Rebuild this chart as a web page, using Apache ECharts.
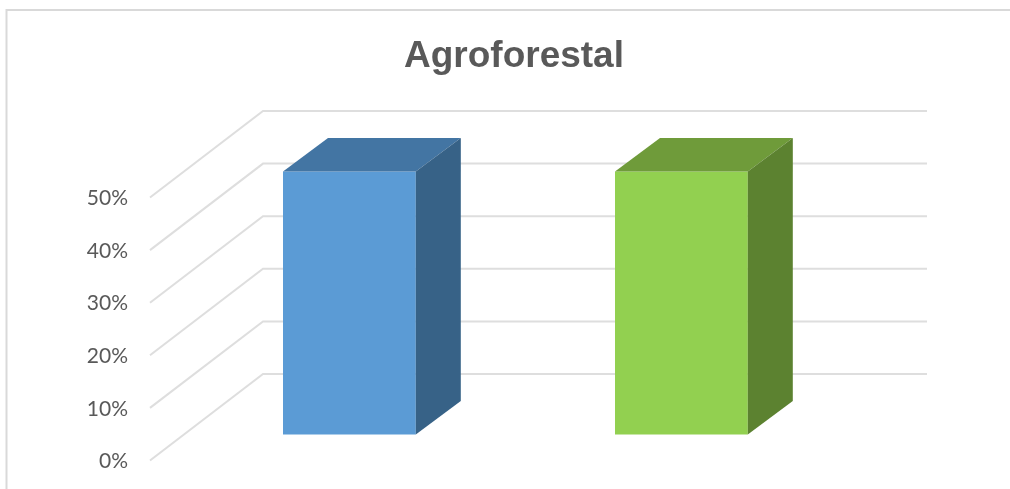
<!DOCTYPE html>
<html>
<head>
<meta charset="utf-8">
<script src="https://cdn.jsdelivr.net/npm/echarts@6/dist/echarts.min.js"></script>
<style>html,body{margin:0;padding:0;background:#fff}#c{width:1010px;height:489px}</style>
</head>
<body>
<div id="c"></div>
<script>
const titleText = 'Agroforestal';
const categories = ['Columna 1', 'Columna 2'];
const barValues = [50, 50];
const axisTicks = [0, 10, 20, 30, 40, 50];
const frontColors = ['#5B9BD5', '#92D050'];
const topColors = ['#4375A3', '#6F9B3A'];
const sideColors = ['#376287', '#5C8230'];
const depthX = 113, depthY = -86.5, wallWidth = 664;
const barDepthX = 45, barDepthY = -33.5, barInsetX = 33.4, barInsetY = -26;

const chart = echarts.init(document.getElementById('c'), null, {renderer: 'canvas'});

function renderGrid(params, api) {
  const sys = params.coordSys;
  const y = api.coord([0, api.value(1)])[1];
  return {
    type: 'polyline',
    shape: {points: [[sys.x, y], [sys.x + depthX, y + depthY], [sys.x + depthX + wallWidth, y + depthY]]},
    style: {stroke: '#DEDEDE', lineWidth: 2, fill: null},
    silent: true
  };
}

function renderBar(params, api) {
  const i = api.value(0);
  const top = api.coord([i, api.value(1)]);
  const base = api.coord([i, 0]);
  const w = api.size([1, 0])[0] * 0.4;
  const l = top[0] - w / 2 + barInsetX, r = l + w;
  const t = top[1] + barInsetY, b = base[1] + barInsetY;
  return {
    type: 'group',
    children: [
      {type: 'rect', shape: {x: l, y: t, width: w, height: b - t}, style: {fill: frontColors[i]}},
      {type: 'polygon', shape: {points: [[l, t], [l + barDepthX, t + barDepthY], [r + barDepthX, t + barDepthY], [r, t]]}, style: {fill: topColors[i]}},
      {type: 'polygon', shape: {points: [[r, t], [r + barDepthX, t + barDepthY], [r + barDepthX, b + barDepthY], [r, b]]}, style: {fill: sideColors[i]}}
    ]
  };
}

chart.setOption({
  animation: false,
  backgroundColor: '#fff',
  title: {
    text: titleText,
    left: 404,
    top: 38,
    textStyle: {fontFamily: 'Liberation Sans', fontSize: 37, fontWeight: 'bold', color: '#595959'},
    padding: 0
  },
  graphic: [{
    type: 'rect',
    shape: {x: 6.5, y: 10, width: 1100, height: 600},
    style: {fill: 'none', stroke: '#D9D9D9', lineWidth: 2},
    silent: true
  }],
  grid: {left: 150, top: 197.5, width: wallWidth, height: 263},
  xAxis: {type: 'category', data: categories, show: false},
  yAxis: {
    type: 'value', min: 0, max: 50, interval: 10,
    axisLine: {show: false}, axisTick: {show: false}, splitLine: {show: false},
    axisLabel: {
      formatter: '{a|{value}%}', margin: 22,
      rich: {a: {fontFamily: 'Lato', fontSize: 21, color: '#595959', padding: [2, 0, 0, 0]}}
    }
  },
  series: [
    {type: 'custom', clip: false, z: 1, renderItem: renderGrid, data: axisTicks.map(v => [0, v]), silent: true},
    {type: 'custom', clip: false, z: 2, renderItem: renderBar, data: barValues.map((v, i) => [i, v]), silent: true}
  ]
});
</script>
</body>
</html>
